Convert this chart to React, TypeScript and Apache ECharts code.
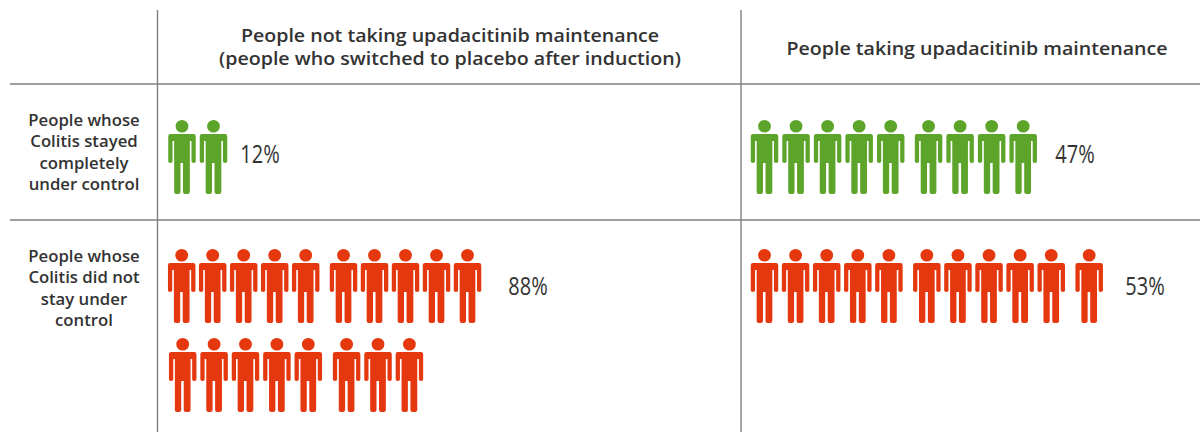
import React, { useEffect, useRef } from "react";
import * as echarts from "echarts";

const columnTitles = [
  "People not taking upadacitinib maintenance\n(people who switched to placebo after induction)",
  "People taking upadacitinib maintenance",
];
const rowTitles = [
  "People whose\nColitis stayed\ncompletely\nunder control",
  "People whose\nColitis did not\nstay under\ncontrol",
];
const GREEN = "#5da52a";
const RED = "#e5380f";

// Number of figures in each drawn row of figures
const greenPlacebo = [2];
const greenDrug = [9];
const redPlacebo = [10, 8];
const redDrug = [11];
const percentLabels = ["12%", "47%", "88%", "53%"];

const PERSON =
  "path://M7.2,6.2a6.3,6.3 0 1,0 12.6,0a6.3,6.3 0 1,0 -12.6,0Z" +
  "M2.2,14L24.8,14Q27,14 27,16.2L27,41.5Q27,43 25,43Q22.8,43 22.8,41.5L22.8,21L21.2,21L21.2,72Q21.2,74 19,74L16.6,74Q14.5,74 14.5,72L14.5,43L12,43L12,72Q12,74 9.9,74L7.9,74Q5.8,74 5.8,72L5.8,21L4.2,21L4.2,41.5Q4.2,43 2.1,43Q0,43 0,41.5L0,16.2Q0,14 2.2,14Z";

const blocks = [
  { counts: greenPlacebo, color: GREEN, left: 182, top: 157, slots: [31.5], offsets: [0], gap: 0.2 },
  { counts: greenDrug, color: GREEN, left: 764.5, top: 157, slots: [31.55], offsets: [0], gap: 0.2 },
  { counts: redPlacebo, color: RED, left: 181.7, top: 286, slots: [31, 31.4], offsets: [0, 1], gap: 0.22 },
  { counts: redDrug, color: RED, left: 764.5, top: 286, slots: [31.1], offsets: [0], gap: 0.22 },
];

const line = (x1: number, y1: number, x2: number, y2: number) => ({
  type: "line",
  silent: true,
  shape: { x1, y1, x2, y2 },
  style: { stroke: "#808080", lineWidth: 1.4 },
});

const txt = (x: number, y: number, text: string, style: any, scaleX = 1) => ({
  type: "text",
  x,
  y,
  scaleX,
  style: { text, fill: "#333333", align: "center", verticalAlign: "middle", ...style },
});

export default function App() {
  const ref = useRef<HTMLDivElement>(null);
  useEffect(() => {
    document.body.style.margin = "0";
    const chart = echarts.init(ref.current!, undefined, { renderer: "svg" });
    const grids: any[] = [];
    const xAxes: any[] = [];
    const yAxes: any[] = [];
    const series: any[] = [];
    blocks.forEach((b) => {
      b.counts.forEach((count, r) => {
        const idx = grids.length;
        grids.push({ left: b.left + b.offsets[r], top: b.top + r * 89, width: b.slots[r] * 12, height: 10 });
        xAxes.push({ type: "value", gridIndex: idx, min: 0, max: 12, show: false });
        yAxes.push({ type: "value", gridIndex: idx, min: 0, max: 1, show: false });
        series.push({
          type: "scatter",
          xAxisIndex: idx,
          yAxisIndex: idx,
          clip: false,
          silent: true,
          symbol: PERSON,
          symbolKeepAspect: false,
          symbolSize: [27.5, 74],
          itemStyle: { color: b.color, opacity: 1 },
          data: Array.from({ length: count }, (_, i) => [i + Math.floor(i / 5) * b.gap, 1]),
        });
      });
    });
    const head = { fontFamily: "Open Sans", fontSize: 18.5, fontWeight: 600, lineHeight: 23, fill: "#333333" };
    const rowStyle = { fontFamily: "Open Sans", fontSize: 15.5, fontWeight: 600, lineHeight: 21.5, fill: "#333333" };
    const pct = { fontFamily: "Open Sans", fontSize: 25, fontWeight: 400, fill: "#333333" };
    chart.setOption({
      animation: false,
      backgroundColor: "#ffffff",
      grid: grids,
      xAxis: xAxes,
      yAxis: yAxes,
      series,
      graphic: [
        line(157.5, 10, 157.5, 432),
        line(741, 10, 741, 432),
        line(10, 84, 1200, 84),
        line(10, 220, 1200, 220),
        txt(450, 47, columnTitles[0], head, 1.06),
        txt(977, 48, columnTitles[1], head, 1.06),
        txt(84, 152, rowTitles[0], rowStyle, 1.08),
        txt(84, 288, rowTitles[1], rowStyle, 1.08),
        txt(260, 154, percentLabels[0], pct, 0.8),
        txt(1075, 154, percentLabels[1], pct, 0.8),
        txt(528, 286, percentLabels[2], pct, 0.8),
        txt(1145, 286, percentLabels[3], pct, 0.8),
      ],
    });
    return () => chart.dispose();
  }, []);
  return <div ref={ref} style={{ position: "absolute", left: 0, top: 0, width: 1200, height: 432 }} />;
}
